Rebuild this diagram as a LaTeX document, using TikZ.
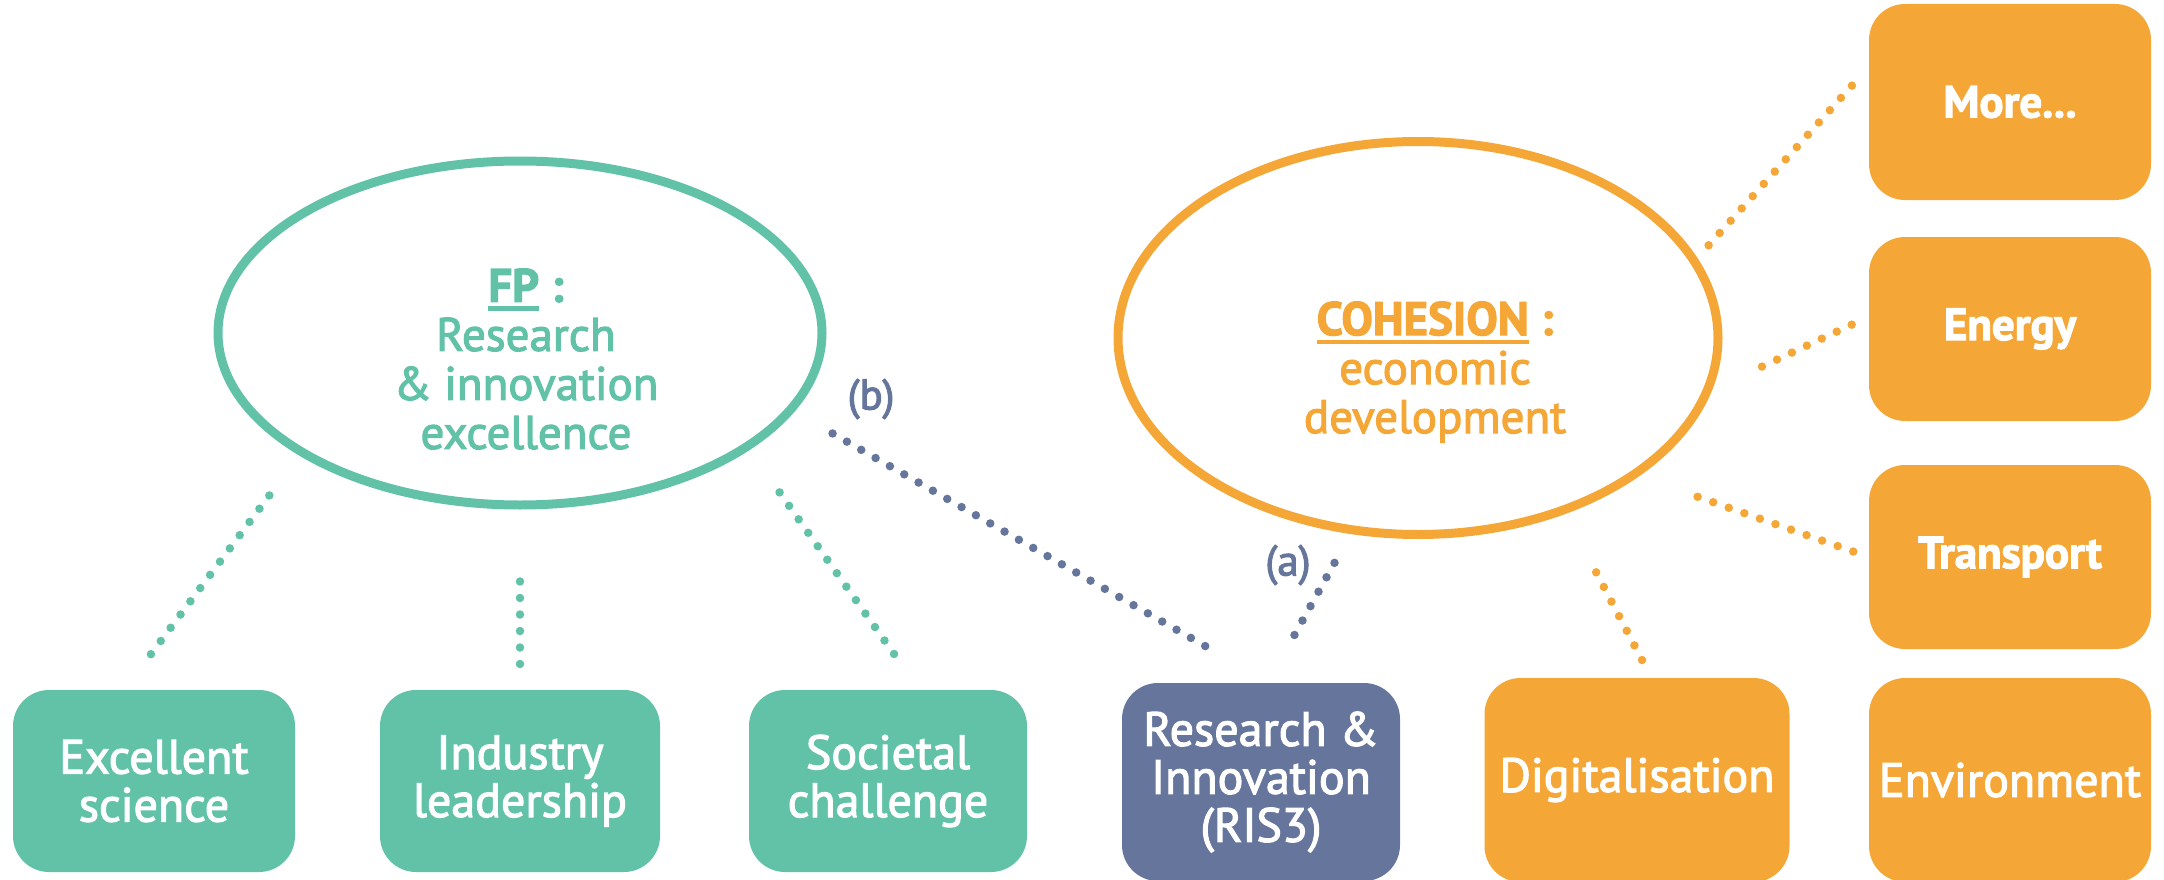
\documentclass[tikz,border=0pt]{standalone}
\usepackage{fontspec}
\setmainfont{PT Sans}[FakeBold=2.4]
\usetikzlibrary{calc,shapes.geometric}
\definecolor{fpc}{HTML}{62C2A8}
\definecolor{coc}{HTML}{F4A736}
\definecolor{ric}{HTML}{65759C}
\newcommand\myul[1]{\setbox0\hbox{#1}\rlap{\rule[-9pt]{\wd0}{4.5pt}}\box0}
\begin{document}
\begin{tikzpicture}[x=1pt,y=-1pt,
  ring/.style={ellipse, draw, line width=9pt, inner sep=0pt},
  ringtext/.style={align=center, font=\fontsize{47}{49}\selectfont},
  box/.style={rectangle, rounded corners=36pt, draw=none, text=white, inner sep=0pt, align=center, font=\fontsize{48}{48}\selectfont},
  boldbox/.style={box, font=\fontsize{45}{48}\selectfont\bfseries},
  conn/.style={line width=8.5pt, line cap=round, dash pattern=on 0pt off 16.5pt},
  lbl/.style={text=ric, font=\fontsize{43}{44}\selectfont, inner sep=0pt}]
\useasboundingbox (0,0) rectangle (2164,880);
% rings
\node[ring, draw=fpc, minimum width=604pt, minimum height=344pt] (fp) at (520,333) {};
\node[ring, draw=coc, minimum width=600pt, minimum height=393pt] (coh) at (1418,338) {};
\node[ringtext, text=fpc] (fpt) at (526,359) {\textbf{\myul{FP}~:}\\Research\\\& innovation\\excellence};
\node[ringtext, text=coc] (coht) at (1435,372) {\textbf{\myul{COHESION}~:}\\economic\\development};
% bottom boxes
\node[box, fill=fpc, minimum width=282pt, minimum height=182pt] (exc) at (154,781) {Excellent\\science};
\node[box, fill=fpc, minimum width=280pt, minimum height=182pt] (ind) at (520,781) {Industry\\leadership};
\node[box, fill=fpc, minimum width=278pt, minimum height=182pt] (soc) at (888,781) {Societal\\challenge};
\node[box, fill=ric, minimum width=278pt, minimum height=198pt] (ris) at (1261,782) {Research \&\\Innovation\\(RIS3)};
\node[box, fill=coc, minimum width=305pt, minimum height=204pt] (dig) at (1637,780) {Digitalisation};
\node[box, fill=coc, minimum width=282pt, minimum height=204pt] (env) at (2010,780) {Environment};
% right column
\node[boldbox, fill=coc, minimum width=282pt, minimum height=196pt] (more) at (2010,102) {More...};
\node[boldbox, fill=coc, minimum width=282pt, minimum height=184pt] (energy) at (2010,329) {Energy};
\node[boldbox, fill=coc, minimum width=282pt, minimum height=184pt] (trans) at (2010,557) {Transport};
% connectors
\draw[conn, fpc, shorten <=50pt, shorten >=36pt] (fp.209.6) -- (exc.108.8);
\draw[conn, fpc, shorten <=72pt, shorten >=18pt] (fp.south) -- (ind.north);
\draw[conn, fpc, shorten <=52pt, shorten >=31pt] (fp.333.2) -- (soc.71.9);
\draw[conn, ric, shorten <=44pt] (fp.344.1) -- ($(ris.north)+(-51,-34)$);
\draw[conn, ric, shorten <=33pt, shorten >=39pt] (coh.251) -- (ris.86.5);
\draw[conn, coc, shorten <=66pt, shorten >=18pt] (coh.310.2) -- (dig.82.7);
\draw[conn, coc, shorten <=62pt, shorten >=13pt] (coh.328.2) -- (trans.west);
\draw[conn, coc, shorten <=55pt, shorten >=13pt] (coh.350.6) -- (energy.175.8);
\draw[conn, coc, shorten <=17pt, shorten >=18pt] (coh.16.1) -- (more.166.15);
% labels
\node[lbl] (lb) at (871,399) {(b)};
\node[lbl] (la) at (1288,565) {(a)};
\end{tikzpicture}
\end{document}
